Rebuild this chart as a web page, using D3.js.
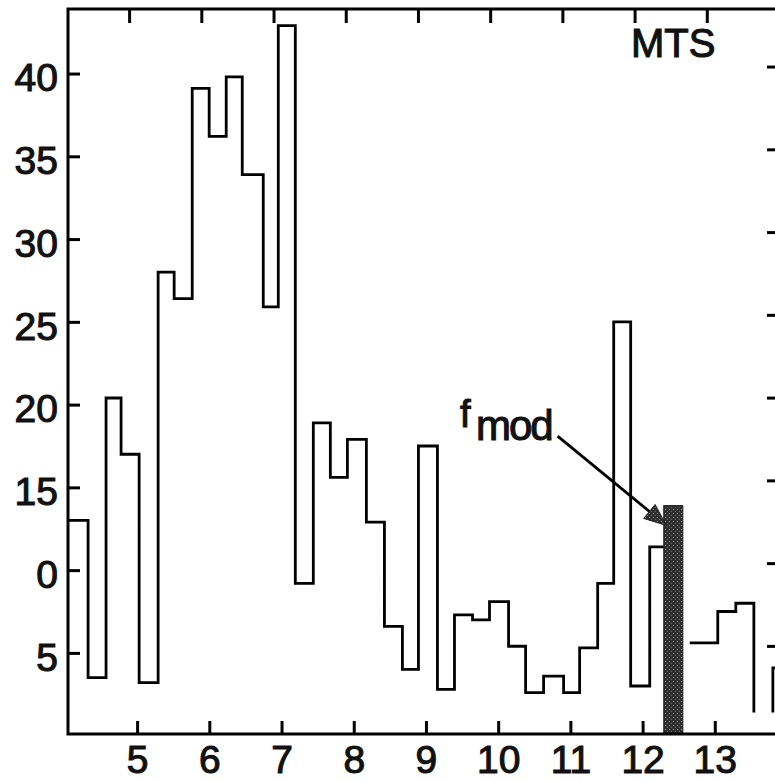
<!DOCTYPE html>
<html><head><meta charset="utf-8">
<script src="https://cdn.jsdelivr.net/npm/d3@7"></script>
<style>html,body{margin:0;padding:0;background:#fff;} svg{display:block;}</style>
</head><body><svg id="chart" width="775" height="782"></svg>
<script>
// ---- data ----
const binEdges = [4.043,4.321,4.570,4.778,5.028,5.291,5.513,5.763,5.998,6.234,6.456,6.747,6.955,7.191,7.440,7.676,7.912,8.175,8.425,8.674,8.896,9.159,9.395,9.645,9.880,10.144,10.380,10.629,10.906,11.128,11.378,11.600,11.835,12.099,12.335,12.653,13.041,13.291,13.541,13.804,14.054];
const binValues = [13.0,3.5,20.4,17.0,3.2,28.0,26.4,39.1,36.2,39.8,33.9,25.9,42.9,9.2,18.9,15.6,17.9,12.9,6.6,4.0,17.5,2.8,7.3,7.0,8.1,5.4,2.6,3.6,2.6,5.3,9.2,25.0,3.0,11.4,null,5.6,7.5,8.0,1.4,4.1];
const openTopBins = [38];
const fmodBar = {x0: 12.293, x1: 12.557, value: 13.9};
const xTickValues = [5,6,7,8,9,10,11,12,13];
const xTickLabels = ["5","6","7","8","9","10","11","12","13"];
const yTickValues = [5,10,15,20,25,30,35,40];
const yTickLabels = ["5","0","15","20","25","30","35","40"];
const titleText = "MTS";
const fmodLabel = {main: "f", sub: "mod"};
const arrowFrom = {x: 10.823, y: 18.1};
const arrowTo = {x: 12.33, y: 12.7};

// ---- layout ----
const svg = d3.select("#chart");
const L = 68, R = 779, T = 9, B = 734;
const x = d3.scaleLinear().domain([4.043, 13.889]).range([L, R]);
const y = d3.scaleLinear().domain([0.1, 43.9]).range([B, T]);
const font = "'Liberation Sans', Arial, Helvetica, sans-serif";

svg.append("defs").append("clipPath").attr("id","plot")
  .append("rect").attr("x",L).attr("y",T).attr("width",R-L).attr("height",B-T);

const pat = svg.select("defs").append("pattern").attr("id","stip")
  .attr("patternUnits","userSpaceOnUse").attr("width",4).attr("height",4);
pat.append("rect").attr("width",4).attr("height",4).attr("fill","#2e2e2e");
pat.append("rect").attr("x",1).attr("y",1).attr("width",1).attr("height",1).attr("fill","#9a9a9a");
pat.append("rect").attr("x",3).attr("y",3).attr("width",1).attr("height",1).attr("fill","#6a6a6a");

// step outline
let d = "", pen = false;
binValues.forEach((v,i) => {
  if (v == null) { pen = false; return; }
  const xa = x(binEdges[i]), xb = x(binEdges[i+1]), yv = y(v);
  d += (pen ? "L" : "M") + xa + "," + yv;
  d += (openTopBins.includes(i) ? "M" : "L") + xb + "," + yv;
  pen = true;
});
svg.append("path").attr("d", d).attr("fill","none").attr("stroke","#000")
  .attr("stroke-width",2.8).attr("stroke-linejoin","miter").attr("clip-path","url(#plot)");

// highlighted f_mod bar
svg.append("rect").attr("x", x(fmodBar.x0)).attr("y", y(fmodBar.value))
  .attr("width", x(fmodBar.x1)-x(fmodBar.x0)).attr("height", B - y(fmodBar.value))
  .attr("fill","url(#stip)").attr("stroke","#222").attr("stroke-width",1);

// axes
function styleAxis(g){
  g.select(".domain").remove();
  g.selectAll(".tick line").attr("stroke","#000").attr("stroke-width",3);
  g.selectAll(".tick text").attr("fill","#111").attr("font-family",font).attr("font-size",39)
    .attr("stroke","#111").attr("stroke-width",1.1);
}
svg.append("g").attr("transform",`translate(0,${B})`)
  .call(d3.axisBottom(x).tickValues(xTickValues).tickFormat((v,i)=>xTickLabels[i]).tickSize(-13).tickPadding(11))
  .call(styleAxis);
svg.append("g").attr("transform",`translate(${L},0)`)
  .call(d3.axisLeft(y).tickValues(yTickValues).tickFormat((v,i)=>yTickLabels[i]).tickSize(-12).tickPadding(10))
  .call(styleAxis)
  .selectAll(".tick text").attr("dy","0.44em");
svg.append("g").attr("transform",`translate(-8,${T})`)
  .call(d3.axisTop(x).tickValues(xTickValues).tickFormat("").tickSize(-14))
  .call(styleAxis);
svg.append("g").attr("transform",`translate(${R},-7)`)
  .call(d3.axisRight(y).tickValues(yTickValues).tickFormat("").tickSize(-12))
  .call(styleAxis);

// frame
svg.append("path").attr("d",`M${R+2},${T}H${L}V${B}H${R+2}`)
  .attr("fill","none").attr("stroke","#000").attr("stroke-width",3);

// title
svg.append("text").attr("x",631).attr("y",57).attr("font-family",font).attr("font-size",40)
  .attr("fill","#111").attr("stroke","#111").attr("stroke-width",1.1).text(titleText);

// f_mod annotation
const ax0 = x(arrowFrom.x), ay0 = y(arrowFrom.y), ax1 = x(arrowTo.x), ay1 = y(arrowTo.y);
const ang = Math.atan2(ay1-ay0, ax1-ax0), hl = 22, hw = 9;
const bx = ax1 - hl*Math.cos(ang), by = ay1 - hl*Math.sin(ang);
svg.append("line").attr("x1",ax0).attr("y1",ay0).attr("x2",bx).attr("y2",by)
  .attr("stroke","#000").attr("stroke-width",2.8);
svg.append("path").attr("d",
  `M${ax1},${ay1}L${bx + hw*Math.sin(ang)},${by - hw*Math.cos(ang)}L${bx - hw*Math.sin(ang)},${by + hw*Math.cos(ang)}Z`)
  .attr("fill","url(#stip)").attr("stroke","#222").attr("stroke-width",1);
const lab = svg.append("text").attr("font-family",font).attr("fill","#111")
  .attr("stroke","#111").attr("stroke-width",1.1);
lab.append("tspan").attr("x",460).attr("y",427).attr("font-size",38).text(fmodLabel.main);
lab.append("tspan").attr("x",476).attr("y",440).attr("font-size",42).attr("letter-spacing",-2).text(fmodLabel.sub);
</script>
</body></html>
